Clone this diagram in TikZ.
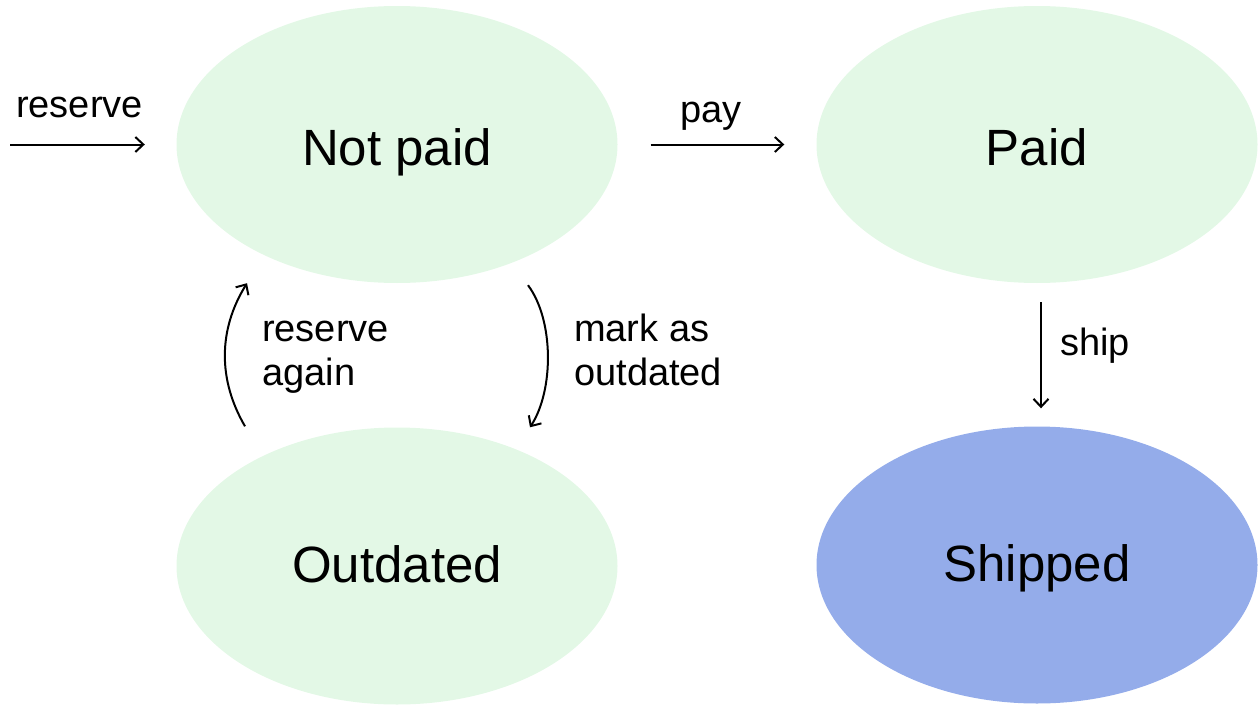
\documentclass[tikz,border=0pt]{standalone}
\usepackage{fontspec}
\setmainfont{Liberation Sans}
\usetikzlibrary{arrows.meta,calc,shapes.geometric}
\definecolor{stgreen}{RGB}{227,248,230}
\definecolor{stblue}{RGB}{148,172,234}
\tikzset{
  state/.style={ellipse, draw=none, inner sep=0pt, minimum width=441pt, minimum height=277pt,
    font=\fontsize{51}{60}\selectfont, text depth=0pt},
  upper/.style={text height=42pt},
  lower/.style={text height=33pt},
  arr/.style={line width=2pt, -{Straight Barb[length=8pt,width=15pt]}},
  lbl/.style={font=\fontsize{38}{44}\selectfont, inner sep=0pt, anchor=base west, align=left}
}
\begin{document}
\begin{tikzpicture}[x=1pt,y=-1pt]
\useasboundingbox (0,0) rectangle (1258,704);
\node[state,upper,fill=stgreen] (np) at (397,144.5) {Not paid};
\node[state,upper,fill=stgreen] (pd) at (1037,144.5) {Paid};
\node[state,lower,fill=stgreen] (od) at (397,566) {Outdated};
\node[state,lower,fill=stblue] (sh) at (1037,565) {Shipped};
\coordinate (in) at (10,144.5);
\draw[arr, shorten >=31.5pt] (in) -- (np);
\draw[arr, shorten <=33pt, shorten >=32pt] (np) -- (pd);
\draw[arr, shorten <=19pt, shorten >=18pt] ([xshift=4pt]pd.south) -- ([xshift=4pt]sh.north);
\coordinate (ra1) at ($(od.north)+(-152,-1)$);
\coordinate (ra2) at ($(np.south)+(-150,0)$);
\coordinate (mo1) at ($(np.south)+(131,2)$);
\coordinate (mo2) at ($(od.north)+(133,0)$);
\draw[arr] (ra1) .. controls (218,380) and (218,330) .. (ra2);
\draw[arr] (mo1) .. controls (554,320) and (554,390) .. (mo2);
\node[lbl] (lres) at (16,117) {reserve};
\node[lbl] (lpay) at (680,122) {pay};
\node[lbl] (lship) at (1060,355) {ship};
\node[lbl] (lagain) at (262,385) {reserve\\again};
\node[lbl] (lmark) at (574,385) {mark as\\outdated};
\end{tikzpicture}
\end{document}
